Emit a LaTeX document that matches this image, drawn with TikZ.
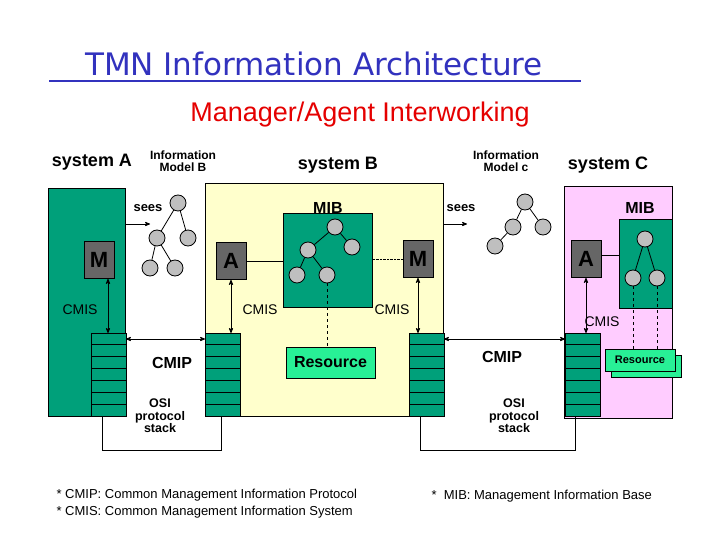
\documentclass[tikz,border=0pt]{standalone}
\usepackage{fontspec}
\setmainfont{Liberation Sans}
\newfontfamily\titlefont{DejaVu Sans}
\usetikzlibrary{positioning, arrows}
\definecolor{tmngreen}{RGB}{0,160,122}
\definecolor{resgreen}{RGB}{40,240,150}
\definecolor{sysyellow}{RGB}{255,255,204}
\definecolor{syspink}{RGB}{255,204,255}
\definecolor{titleblue}{RGB}{50,50,190}
\newcommand{\fs}[1]{\fontsize{#1}{#1}\selectfont}
\newcommand{\stack}[2]{% x-left, name
  \foreach \i in {0,...,6}
    \draw[thick, fill=tmngreen] (#1,333+\i*11.86) rectangle ++(35,11.86);
  \coordinate (#2) at (#1,333);}

\begin{document}
\begin{tikzpicture}[
		x=1pt, y=-1pt,
		>=stealth',
		box/.style={draw, thick, rectangle, inner sep=0pt, anchor=north west},
		agent/.style={draw, thick, fill=gray!80!black, minimum width=30pt, minimum height=37pt, font=\bfseries\fs{22}, inner sep=0pt},
		obj/.style={draw, thick, circle, fill=gray!50, minimum size=16pt, inner sep=0pt},
		lbl/.style={font=\bfseries\fs{14}},
		thin lbl/.style={font=\fs{14}},
		small/.style={font=\bfseries\fs{12.5}, align=center}]

	\useasboundingbox (0,0) rectangle (720,540);

	% titles
	\node[font=\titlefont\fs{31}, text=titleblue] (title) at (314,64) {TMN Information Architecture};
	\draw[titleblue, line width=1.5pt] (49,81) -- (581,81);
	\node[font=\fs{27}, text=red!90!black] (sub) at (360,115) {Manager/Agent Interworking};

	% systems
	\node[box, fill=tmngreen, minimum width=77pt, minimum height=228pt] (sysA) at (48,188) {};
	\node[box, fill=sysyellow, minimum width=238pt, minimum height=233pt] (sysB) at (205,183) {};
	\node[box, fill=syspink, minimum width=108pt, minimum height=232pt] (sysC) at (564,186) {};
	\node[font=\bfseries\fs{18}] at (92,162) {system A};
	\node[font=\bfseries\fs{18}] at (338,165) {system B};
	\node[font=\bfseries\fs{18}] at (608,165) {system C};
	\node[small, font=\bfseries\fs{12}] at (183,161) {Information\\Model B};
	\node[small, font=\bfseries\fs{12}] at (506,161) {Information\\Model c};

	% MIBs and resources
	\node[box, fill=tmngreen, minimum width=89pt, minimum height=94pt] (mibB) at (283,213) {};
	\node[font=\bfseries\fs{16}, above=-4pt of mibB] {MIB};
	\node[box, fill=tmngreen, minimum width=53pt, minimum height=89pt] (mibC) at (619,219) {};
	\node[font=\bfseries\fs{16}] at (640,208) {MIB};
	\node[draw, thick, fill=resgreen, minimum width=89pt, minimum height=31pt, inner sep=0pt, font=\bfseries\fs{16}] (resB) at (330.5,362.5) {Resource};
	\node[draw, thick, fill=resgreen, minimum width=70pt, minimum height=22pt, inner sep=0pt] at (646,366) {};
	\node[draw, thick, fill=resgreen, minimum width=70pt, minimum height=22pt, inner sep=0pt, font=\bfseries\fs{11}] (resC) at (640,360) {Resource};

	% managers and agents
	\node[agent] (mA) at (99,260) {M};
	\node[agent] (aB) at (231,261) {A};
	\node[agent] (mB) at (418,259) {M};
	\node[agent] (aC) at (586,259) {A};

	% protocol stacks
	\stack{91}{stA}
	\stack{205}{stB1}
	\stack{409}{stB2}
	\stack{565}{stC}

	% information model B
	\node[obj] (ib1) at (178,203) {};
	\node[obj] (ib2) at (157,238) {};
	\node[obj] (ib3) at (188,238) {};
	\node[obj] (ib4) at (150,268) {};
	\node[obj] (ib5) at (175,268) {};
	\draw[thick] (ib1) -- (ib2) (ib1) -- (ib3) (ib2) -- (ib4) (ib2) -- (ib5);
	% information model c
	\node[obj] (ic1) at (525,202) {};
	\node[obj] (ic2) at (513,227) {};
	\node[obj] (ic3) at (543,227) {};
	\node[obj] (ic4) at (495,246) {};
	\draw[thick] (ic1) -- (ic2) (ic1) -- (ic3) (ic2) -- (ic4);
	% MIB B tree
	\node[obj] (mb1) at (335,227) {};
	\node[obj] (mb2) at (352,247) {};
	\node[obj] (mb3) at (308,250) {};
	\node[obj] (mb4) at (297,275) {};
	\node[obj] (mb5) at (327,275) {};
	\draw[thick] (mb1) -- (mb2) (mb1) -- (mb3) (mb3) -- (mb4) (mb3) -- (mb5);
	% MIB C tree
	\node[obj] (mc1) at (645,239) {};
	\node[obj] (mc2) at (633,278) {};
	\node[obj] (mc3) at (657,278) {};
	\draw[thick] (mc1) -- (mc2) (mc1) -- (mc3);

	% connectors
	\draw[thick] (aB.east) -- (aB.east -| mibB.west);
	\draw[thick] (aC.east |- 0,255) -- (mibC.west |- 0,255);
	\draw[densely dotted] (mB.west -| mibB.east) -- (mB.west);
	\draw[thick, dashed] (mb5) -- (resB.north -| mb5);
	\draw[thick, dashed] (mc2) -- (mc2 |- resC.north);
	\draw[thick, dashed] (mc3) -- (mc3 |- resC.north);
	\draw[thick, <->] (mA.south -| 108,0) -- (108,333);
	\draw[thick, <->] (aB.south) -- (aB.south |- stB1);
	\draw[thick, <->] (mB.south) -- (mB.south |- stB2);
	\draw[thick, <->] (aC.south) -- (aC.south |- stC);
	\draw[thick, <->] (126,339) -- (205,339);
	\draw[thick, <->] (444,339) -- (565,339);
	\draw[thick, ->] (125,224) -- (150,224);
	\draw[thick, ->] (443,224) -- (467,224);
	\draw[thick] (102,416) -- (102,450) -- (221,450) -- (221,416);
	\draw[thick] (420,416) -- (420,450) -- (575,450) -- (575,416);

	% labels
	\node[lbl, font=\bfseries\fs{13}] at (148,208) {sees};
	\node[lbl, font=\bfseries\fs{13}] at (461,208) {sees};
	\node[thin lbl] at (80,310) {CMIS};
	\node[thin lbl] at (260,310) {CMIS};
	\node[thin lbl] at (392,310) {CMIS};
	\node[thin lbl] at (602,322) {CMIS};
	\node[font=\bfseries\fs{16}] at (172,363) {CMIP};
	\node[font=\bfseries\fs{16}] at (502,357) {CMIP};
	\node[small] at (160,416) {OSI\\protocol\\stack};
	\node[small] at (514,416) {OSI\\protocol\\stack};
	\node[anchor=west, align=left, font=\fs{13}\linespread{1.3}\selectfont] at (53,504) {* CMIP: Common Management Information Protocol\\* CMIS: Common Management Information System};
	\node[anchor=west, font=\fs{13}] at (428,496) {*\ \ MIB: Management Information Base};
\end{tikzpicture}
\end{document}
